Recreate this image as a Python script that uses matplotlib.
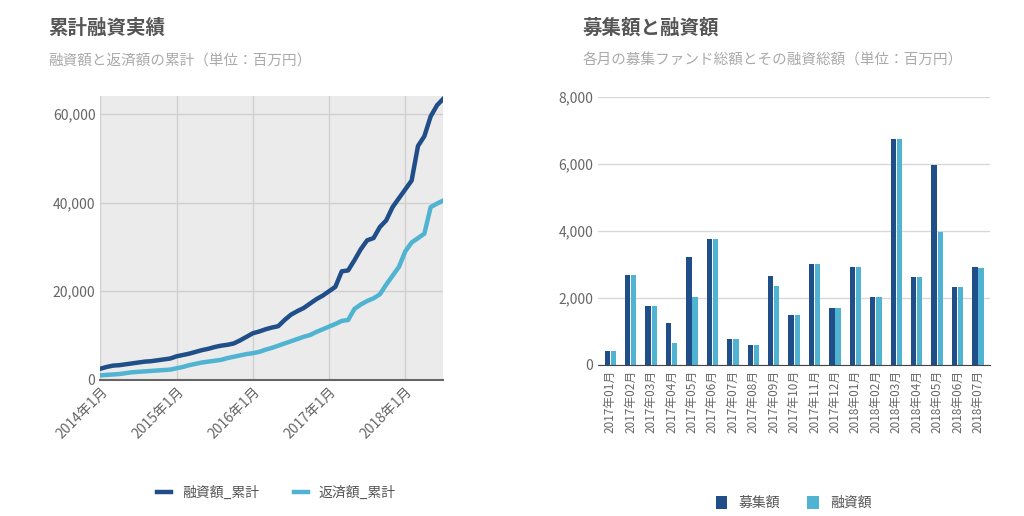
import matplotlib
matplotlib.use('Agg')
import matplotlib.pyplot as plt
import numpy as np
import pandas as pd

plt.rcParams['font.family'] = 'Noto Sans CJK JP'

DARK = '#1f4e88'
LIGHT = '#4fb3d1'
GRAY = '#888888'

# left chart: cumulative (million yen), monthly 2014-01 .. 2018-07
months = pd.date_range('2014-01-01', '2018-07-01', freq='MS')
loan_cum = [2500, 2900, 3200, 3300, 3500, 3700, 3900, 4100, 4200, 4400, 4600, 4800,
            5300, 5600, 5900, 6300, 6700, 7000, 7400, 7700, 7900, 8200, 8900, 9700,
            10500, 10900, 11400, 11800, 12100, 13500, 14700, 15500, 16200, 17200, 18200, 19000,
            20000, 21000, 24500, 24700, 27000, 29500, 31500, 32000, 34500, 36000, 39000, 41000,
            43000, 45000, 52800, 55000, 59500, 62000, 63500]
repay_cum = [1000, 1100, 1200, 1300, 1500, 1700, 1800, 1900, 2000, 2100, 2200, 2300,
             2600, 2900, 3300, 3600, 3900, 4100, 4300, 4500, 4900, 5200, 5500, 5800,
             6000, 6300, 6800, 7200, 7700, 8200, 8700, 9200, 9700, 10100, 10800, 11400,
             12000, 12600, 13300, 13500, 16000, 17000, 17800, 18400, 19300, 21500, 23500, 25500,
             29000, 31000, 32000, 33000, 39000, 39800, 40500]
year_ticks = ['2014年1月', '2015年1月', '2016年1月', '2017年1月', '2018年1月']

# right chart: monthly amounts
bar_labels = ['2017年01月', '2017年02月', '2017年03月', '2017年04月', '2017年05月', '2017年06月',
              '2017年07月', '2017年08月', '2017年09月', '2017年10月', '2017年11月', '2017年12月',
              '2018年01月', '2018年02月', '2018年03月', '2018年04月', '2018年05月', '2018年06月',
              '2018年07月']
raised = [420, 2670, 1770, 1250, 3230, 3750, 780, 580, 2640, 1490, 3000, 1690,
          2920, 2040, 6740, 2610, 5970, 2320, 2920]
lent = [420, 2670, 1770, 650, 2030, 3750, 780, 580, 2350, 1490, 3000, 1690,
        2920, 2040, 6740, 2610, 3960, 2320, 2880]

fig = plt.figure(figsize=(10.24, 5.16), dpi=100)

# ---- left
ax = fig.add_axes([0.098, 0.264, 0.335, 0.55])
ax.set_facecolor('#ebebeb')
x = np.arange(len(months))
ax.plot(x, loan_cum, color=DARK, lw=3.2, label='融資額_累計')
ax.plot(x, repay_cum, color=LIGHT, lw=3.2, label='返済額_累計')
ax.set_xlim(0, len(months) - 1)
ax.set_ylim(0, 64100)
ax.set_yticks([0, 20000, 40000, 60000])
ax.set_yticklabels(['0', '20,000', '40,000', '60,000'])
ax.set_xticks([0, 12, 24, 36, 48])
ax.set_xticklabels(year_ticks, rotation=45, ha='right', rotation_mode='anchor')
ax.grid(color='#d0d0d0', lw=1)
ax.set_axisbelow(True)
for s in ['top', 'right', 'left']:
    ax.spines[s].set_visible(False)
ax.spines['bottom'].set_color('#666666')
ax.spines['bottom'].set_linewidth(1.5)
ax.tick_params(colors='#666666', labelsize=10, length=0)
ax.legend(loc='center', bbox_to_anchor=(0.27, 0.045), bbox_transform=fig.transFigure, ncol=2,
          frameon=False, fontsize=10, handlelength=1.0, columnspacing=2.5, labelcolor='#555555')
fig.text(0.047, 0.945, '累計融資実績', fontsize=14, fontweight='bold', color='#555555', va='center')
fig.text(0.047, 0.882, '融資額と返済額の累計（単位：百万円）', fontsize=10.5, color='#aaaaaa', va='center')

# ---- right
bx = fig.add_axes([0.584, 0.293, 0.383, 0.519])
bi = np.arange(len(bar_labels))
w = 0.26
bx.bar(bi - 0.15, raised, width=w, color=DARK, label='募集額')
bx.bar(bi + 0.15, lent, width=w, color=LIGHT, label='融資額')
bx.set_xlim(-0.6, len(bar_labels) - 0.4)
bx.set_ylim(0, 8000)
bx.set_yticks([0, 2000, 4000, 6000, 8000])
bx.set_yticklabels(['0', '2,000', '4,000', '6,000', '8,000'])
bx.set_xticks(bi)
bx.set_xticklabels(bar_labels, rotation=90, fontsize=8.5)
bx.grid(axis='y', color='#d8d8d8', lw=1)
bx.set_axisbelow(True)
for s in ['top', 'right', 'left']:
    bx.spines[s].set_visible(False)
bx.spines['bottom'].set_color('#444444')
bx.tick_params(axis='y', colors='#666666', labelsize=10, length=0)
bx.tick_params(axis='x', colors='#666666', length=0)
bx.legend(loc='center', bbox_to_anchor=(0.775, 0.025), bbox_transform=fig.transFigure, ncol=2,
          frameon=False, fontsize=10, handlelength=0.8, handleheight=1.0, columnspacing=2.0,
          labelcolor='#555555')
fig.text(0.569, 0.945, '募集額と融資額', fontsize=14, fontweight='bold', color='#555555', va='center')
fig.text(0.569, 0.882, '各月の募集ファンド総額とその融資総額（単位：百万円）', fontsize=10.5, color='#aaaaaa', va='center')

fig.savefig('out.png', dpi=100)
